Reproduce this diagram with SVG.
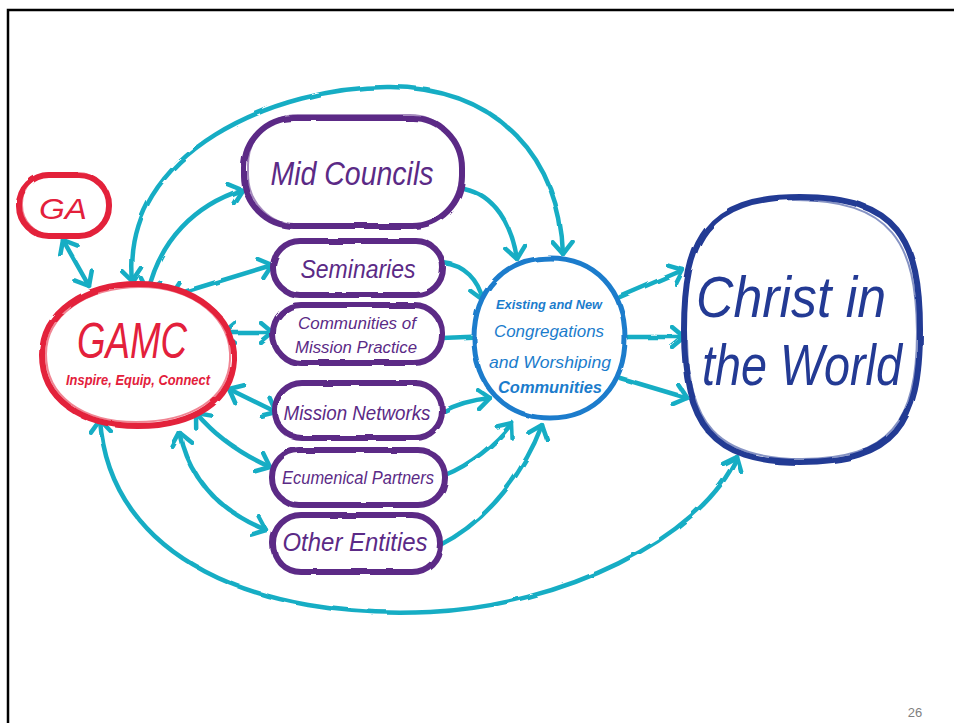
<svg xmlns="http://www.w3.org/2000/svg" width="954" height="723" viewBox="0 0 954 723">
<style>
.hand{font-family:"Liberation Sans","DejaVu Sans",sans-serif;font-style:italic;text-anchor:middle}
.red{fill:#e3203b}
.pur{fill:#5b2a86}
.blu{fill:#1b7ccc}
.nav{fill:#233a94}
.oR{fill:#fff;stroke:#e3203b;stroke-width:6}
.oP{fill:#fff;stroke:#5b2a86;stroke-width:6}
.oB{fill:#fff;stroke:#1b7ccc;stroke-width:5}
.oN{fill:#fff;stroke:#233a94;stroke-width:6}
.sk{fill:none;stroke-width:2;opacity:.55}
.c{fill:none;stroke:#16adc4;stroke-width:4.5;stroke-linecap:round}
.b{marker-start:url(#ah);marker-end:url(#ah)}
.e{marker-end:url(#ah)}
</style>
<defs>
<marker id="ah" viewBox="-14 -12 16 24" markerWidth="16" markerHeight="24" refX="0" refY="0" markerUnits="userSpaceOnUse" orient="auto-start-reverse">
<path d="M-12,-10 L0,0 L-12,10" fill="none" stroke="#16adc4" stroke-width="4.5" stroke-linecap="round" stroke-linejoin="round"/>
</marker>
<filter id="rough" x="-5%" y="-5%" width="110%" height="110%">
<feTurbulence type="fractalNoise" baseFrequency="0.04" numOctaves="2" seed="3"/>
<feDisplacementMap in="SourceGraphic" scale="3"/>
</filter>
</defs>
<rect width="954" height="723" fill="#fff"/>
<path d="M8,723 L8,10 L954,10" fill="none" stroke="#000" stroke-width="2.5"/>

<g id="connectors" filter="url(#rough)">
<path class="c b" d="M63,240 L89,286"/>
<path class="c b" d="M148,292 C160,240 195,205 242,190"/>
<path class="c b" d="M133,282 C120,150 280,86 390,87 C500,88 560,160 563,254"/>
<path class="c b" d="M171,296 L272,265"/>
<path class="c b" d="M223,333 L273,333"/>
<path class="c b" d="M229,389 L276,412"/>
<path class="c b" d="M196,413 Q225,447 270,467"/>
<path class="c b" d="M180,433 C190,482 222,512 266,530"/>
<path class="c b" d="M100,420 C110,560 260,620 430,612 C560,606 700,540 737,457"/>
<path class="c e" d="M463,188 C495,195 512,225 517,259"/>
<path class="c e" d="M443,263 C465,265 478,280 483,300"/>
<path class="c e" d="M442,338 L490,336"/>
<path class="c e" d="M442,412 C455,405 470,400 490,398"/>
<path class="c e" d="M445,475 C470,465 495,445 512,423"/>
<path class="c e" d="M440,545 C490,520 525,470 542,425"/>
<path class="c e" d="M620,297 L683,270"/>
<path class="c e" d="M628,337 L684,337"/>
<path class="c e" d="M620,378 L687,398"/>
</g>

<g id="ga">
<rect class="oR" x="19" y="175" width="90" height="61" rx="30" filter="url(#rough)"/>
<rect class="sk" stroke="#e3203b" x="22" y="173" width="86" height="62" rx="30"/>
<text class="hand red" x="63" y="219" font-size="30" textLength="48" lengthAdjust="spacingAndGlyphs">GA</text>
</g>

<g id="gamc">
<path class="oR" filter="url(#rough)" d="M138,284 C195,284 236,318 234,360 C232,400 195,426 138,426 C80,426 42,398 42,355 C42,312 85,284 138,284 Z"/>
<path class="sk" stroke="#e3203b" d="M140,287 C196,287 232,320 230,360 C228,398 192,422 136,422 C82,422 46,396 46,354 C46,316 86,287 140,287 Z"/>
<text class="hand red" x="132" y="358" font-size="50" textLength="110" lengthAdjust="spacingAndGlyphs">GAMC</text>
<text class="hand red" x="138" y="385" font-size="14" font-weight="bold" textLength="144" lengthAdjust="spacingAndGlyphs">Inspire, Equip, Connect</text>
</g>

<g id="midcouncils">
<rect class="oP" x="244" y="118" width="218" height="108" rx="50" filter="url(#rough)"/>
<rect class="sk" stroke="#5b2a86" x="248" y="115" width="212" height="110" rx="50"/>
<text class="hand pur" x="352" y="185" font-size="34" textLength="163" lengthAdjust="spacingAndGlyphs">Mid Councils</text>
</g>

<g id="seminaries">
<rect class="oP" x="273" y="241" width="170" height="54" rx="27" filter="url(#rough)"/>
<text class="hand pur" x="358" y="278" font-size="25" textLength="115" lengthAdjust="spacingAndGlyphs">Seminaries</text>
</g>

<g id="communities">
<rect class="oP" x="273" y="305" width="169" height="58" rx="28" filter="url(#rough)"/>
<text class="hand pur" x="357" y="329" font-size="16" textLength="118" lengthAdjust="spacingAndGlyphs">Communities of</text>
<text class="hand pur" x="356" y="353" font-size="16" textLength="122" lengthAdjust="spacingAndGlyphs">Mission Practice</text>
</g>

<g id="missionnetworks">
<rect class="oP" x="275" y="383" width="167" height="55" rx="27" filter="url(#rough)"/>
<text class="hand pur" x="357" y="420" font-size="21" textLength="147" lengthAdjust="spacingAndGlyphs">Mission Networks</text>
</g>

<g id="ecumenical">
<rect class="oP" x="272" y="450" width="173" height="55" rx="27" filter="url(#rough)"/>
<text class="hand pur" x="358" y="484" font-size="18" textLength="152" lengthAdjust="spacingAndGlyphs">Ecumenical Partners</text>
</g>

<g id="otherentities">
<rect class="oP" x="273" y="515" width="167" height="57" rx="28" filter="url(#rough)"/>
<text class="hand pur" x="355" y="551" font-size="25" textLength="145" lengthAdjust="spacingAndGlyphs">Other Entities</text>
</g>

<g id="congregations">
<path class="oB" filter="url(#rough)" d="M550,258 C595,258 625,290 625,338 C625,385 595,418 550,418 C505,418 474,385 474,338 C474,290 505,258 550,258 Z"/>
<text class="hand blu" x="549" y="309" font-size="12" font-weight="bold" textLength="106" lengthAdjust="spacingAndGlyphs">Existing and New</text>
<text class="hand blu" x="549" y="337" font-size="17" textLength="110" lengthAdjust="spacingAndGlyphs">Congregations</text>
<text class="hand blu" x="550" y="368" font-size="17" textLength="122" lengthAdjust="spacingAndGlyphs">and Worshiping</text>
<text class="hand blu" x="550" y="393" font-size="16" font-weight="bold" textLength="104" lengthAdjust="spacingAndGlyphs">Communities</text>
</g>

<g id="christ">
<path class="oN" filter="url(#rough)" d="M800,197 C898,197 920,240 920,330 C920,425 895,462 800,462 C712,462 684,425 684,330 C684,240 706,197 800,197 Z"/>
<path class="sk" stroke="#233a94" d="M792,200 C893,199 916,244 917,332 C917,422 890,459 802,459 C716,459 688,422 687,340"/>
<text class="hand nav" x="791" y="317" font-size="58" textLength="190" lengthAdjust="spacingAndGlyphs">Christ in</text>
<text class="hand nav" x="802" y="385" font-size="58" textLength="200" lengthAdjust="spacingAndGlyphs">the World</text>
</g>

<text x="915" y="717" font-family="'Liberation Sans',Arial,sans-serif" font-size="13" fill="#7f7f7f" text-anchor="middle">26</text>
</svg>
